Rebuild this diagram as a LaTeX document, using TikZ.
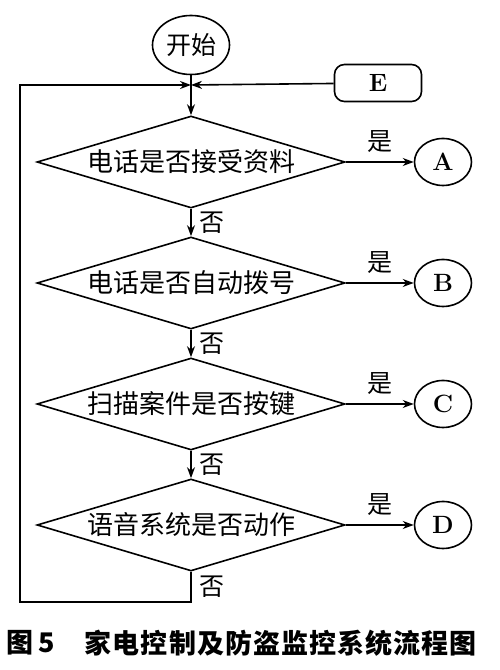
\documentclass[tikz,border=0pt]{standalone}
\usepackage{fontspec}
\newfontfamily\cjk{Noto Sans CJK SC}
\usetikzlibrary{arrows.meta,positioning,shapes.geometric}

\begin{document}
\begin{tikzpicture}[x=1pt,y=1pt,>={Stealth[length=11pt,width=8pt]},line width=1.6pt,node distance=121pt,on grid]
  \useasboundingbox (0,0) rectangle (500,670);
  \tikzset{decision/.style={draw,diamond,aspect=3.3,inner sep=0pt,minimum width=308pt,minimum height=92pt,font=\cjk\fontsize{26}{26}\selectfont}}
  \tikzset{target/.style={draw,ellipse,inner sep=0pt,minimum width=57pt,minimum height=47pt,font=\bfseries\fontsize{25}{25}\selectfont}}
  \tikzset{label/.style={font=\cjk\fontsize{25}{25}\selectfont,inner sep=2pt}}

  \node[draw,ellipse,inner sep=0pt,minimum width=77pt,minimum height=59pt,font=\cjk\fontsize{25}{25}\selectfont] (start) at (191,625) {开始};
  \node[decision]   (Q1) at (191,508)        {电话是否接受资料};
  \node[decision]   (Q2) [below =of Q1]      {电话是否自动拨号};
  \node[decision]   (Q3) [below =of Q2]      {扫描案件是否按键};
  \node[decision]   (Q4) [below =of Q3]      {语音系统是否动作};
  \node[target]     (A)  [right =252pt of Q1] {A};
  \node[target]     (B)  [right =252pt of Q2] {B};
  \node[target]     (C)  [right =252pt of Q3] {C};
  \node[target]     (D)  [right =252pt of Q4] {D};
  \node[draw,rounded corners=10pt,minimum width=87pt,minimum height=37pt,font=\bfseries\fontsize{25}{25}\selectfont] (E) at (378,587) {E};

  \coordinate (J)   at (191,585);
  \coordinate (bot) at (191,68);
  \coordinate (lft) at (20,68);

  % main line
  \draw (start) -- (J);
  \draw[->] (J) -- (Q1.north);
  \draw[->] (E) -- (J);
  \draw[->] (Q4.south) -- node[label,right,xshift=6pt]{否} (bot) -- (lft) |- (J);

\tikzset{yes/.style={->}}
\path (Q1.east) edge [yes] node[label,above=7pt]{是} (A)
      (Q2.east) edge [yes] node[label,above=7pt]{是} (B)
      (Q3.east) edge [yes] node[label,above=7pt]{是} (C)
      (Q4.east) edge [yes] node[label,above=7pt]{是} (D)
      (Q1.south) edge [->] node[label,right,xshift=6pt]{否} (Q2.north)
      (Q2.south) edge [->] node[label,right,xshift=6pt]{否} (Q3.north)
      (Q3.south) edge [->] node[label,right,xshift=6pt]{否} (Q4.north);

  % caption
  \node[anchor=west,inner sep=0pt,font=\cjk\bfseries\fontsize{27}{27}\selectfont] (fig) at (6,27) {图\,5};
  \node[anchor=west,inner sep=0pt,font=\cjk\bfseries\fontsize{27}{27}\selectfont] (title) at (84,27) {\addfontfeature{LetterSpace=4}家电控制及防盗监控系统流程图};
\end{tikzpicture}
\end{document}
